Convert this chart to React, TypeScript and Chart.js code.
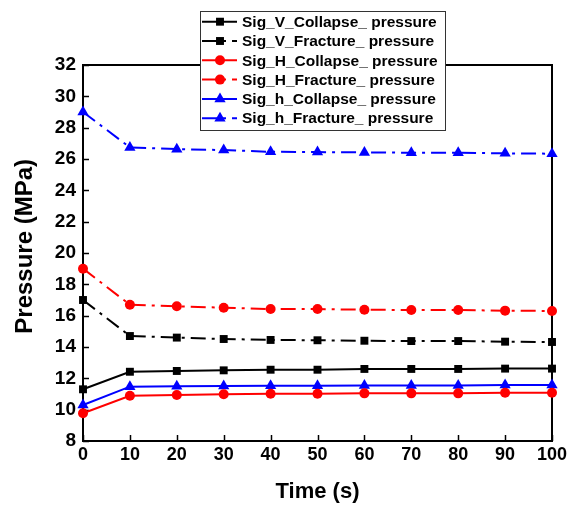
import { useEffect, useRef } from "react";
import { Chart, registerables } from "chart.js";

Chart.register(...registerables);

const times = [0, 10, 20, 30, 40, 50, 60, 70, 80, 90, 100];
const sigVCollapse = [11.3, 12.42, 12.47, 12.51, 12.55, 12.55, 12.6, 12.6, 12.6, 12.62, 12.62];
const sigVFracture = [17.0, 14.7, 14.6, 14.51, 14.45, 14.43, 14.4, 14.38, 14.38, 14.34, 14.32];
const sigHCollapse = [9.77, 10.89, 10.94, 10.98, 11.02, 11.02, 11.04, 11.04, 11.04, 11.08, 11.08];
const sigHFracture = [19.0, 16.7, 16.6, 16.51, 16.42, 16.42, 16.38, 16.36, 16.36, 16.32, 16.3];
const sighCollapse = [10.3, 11.47, 11.49, 11.51, 11.53, 11.53, 11.55, 11.55, 11.55, 11.57, 11.57];
const sighFracture = [29.0, 26.74, 26.63, 26.57, 26.46, 26.44, 26.42, 26.4, 26.4, 26.36, 26.34];

const seriesLabels = [
  "Sig_V_Collapse_ pressure",
  "Sig_V_Fracture_ pressure",
  "Sig_H_Collapse_ pressure",
  "Sig_H_Fracture_ pressure",
  "Sig_h_Collapse_ pressure",
  "Sig_h_Fracture_ pressure",
];

const FONT = "'Liberation Sans', Arial, sans-serif";
const DASHDOT = [15, 6, 3, 6];

function makeDs(label: string, values: number[], color: string, style: string, dashed: boolean) {
  const radius = style === "rect" ? 5.6 : style === "circle" ? 5 : 6.5;
  return {
    label,
    data: values.map((v, i) => ({ x: times[i], y: v })),
    borderColor: color,
    backgroundColor: color,
    borderWidth: 2,
    borderDash: dashed ? DASHDOT : [],
    pointStyle: style,
    pointRadius: radius,
    pointBorderWidth: 0,
    pointBackgroundColor: color,
    tension: 0,
    fill: false,
    clip: false as any,
  };
}

function drawMarker(ctx: CanvasRenderingContext2D, style: string, x: number, y: number, r: number) {
  ctx.beginPath();
  if (style === "rect") {
    const s = Math.SQRT1_2 * r;
    ctx.rect(x - s, y - s, 2 * s, 2 * s);
  } else if (style === "circle") {
    ctx.arc(x, y, r, 0, Math.PI * 2);
  } else {
    const w = r * Math.sin(Math.PI / 3);
    ctx.moveTo(x, y - r);
    ctx.lineTo(x + w, y + r / 2);
    ctx.lineTo(x - w, y + r / 2);
    ctx.closePath();
  }
  ctx.fill();
}

const boxPlugin = {
  id: "boxPlugin",
  beforeDatasetsDraw(chart: any) {
    const { ctx, chartArea } = chart;
    const { left, right, top, bottom } = chartArea;
    ctx.save();
    ctx.strokeStyle = "#000";
    ctx.lineWidth = 2;
    ctx.strokeRect(left, top, right - left, bottom - top);
    ctx.lineWidth = 1.5;
    const xs = chart.scales.x;
    xs.ticks.forEach((t: any) => {
      const px = Math.round(xs.getPixelForValue(t.value)) + 0.5;
      ctx.beginPath();
      ctx.moveTo(px, bottom);
      ctx.lineTo(px, bottom - 6);
      ctx.stroke();
    });
    const ys = chart.scales.y;
    ys.ticks.forEach((t: any) => {
      const py = Math.round(ys.getPixelForValue(t.value)) + 0.5;
      ctx.beginPath();
      ctx.moveTo(left, py);
      ctx.lineTo(left + 6, py);
      ctx.stroke();
    });
    ctx.restore();
  },
};

const legendPlugin = {
  id: "boxLegend",
  afterDraw(chart: any) {
    const { ctx } = chart;
    const bx = 200, by = 11, bw = 245, bh = 119;
    ctx.save();
    ctx.fillStyle = "#fff";
    ctx.fillRect(bx, by, bw, bh);
    ctx.strokeStyle = "#333";
    ctx.lineWidth = 1;
    ctx.strokeRect(bx + 0.5, by + 0.5, bw, bh);
    const dsets = chart.data.datasets;
    dsets.forEach((ds: any, i: number) => {
      const y = 21.7 + i * 19.3;
      ctx.strokeStyle = ds.borderColor;
      ctx.lineWidth = 2;
      ctx.setLineDash(ds.borderDash || []);
      ctx.beginPath();
      ctx.moveTo(202, y);
      ctx.lineTo(237, y);
      ctx.stroke();
      ctx.setLineDash([]);
      ctx.fillStyle = ds.borderColor;
      drawMarker(ctx, ds.pointStyle, 220, y, ds.pointRadius);
      ctx.fillStyle = "#000";
      ctx.font = `bold 15.5px ${FONT}`;
      ctx.textBaseline = "middle";
      ctx.textAlign = "left";
      ctx.fillText(ds.label, 242, y + 1);
    });
    ctx.restore();
  },
};

export default function App() {
  const ref = useRef<HTMLCanvasElement | null>(null);
  useEffect(() => {
    if (!ref.current) return;
    const chart = new Chart(ref.current, {
      type: "line",
      data: {
        datasets: [
          makeDs(seriesLabels[0], sigVCollapse, "#000000", "rect", false),
          makeDs(seriesLabels[1], sigVFracture, "#000000", "rect", true),
          makeDs(seriesLabels[2], sigHCollapse, "#ff0000", "circle", false),
          makeDs(seriesLabels[3], sigHFracture, "#ff0000", "circle", true),
          makeDs(seriesLabels[4], sighCollapse, "#0000ff", "triangle", false),
          makeDs(seriesLabels[5], sighFracture, "#0000ff", "triangle", true),
        ] as any,
      },
      options: {
        animation: false,
        responsive: false,
        maintainAspectRatio: false,
        layout: { padding: { left: 0, right: 29, top: 65, bottom: 0 } },
        plugins: { legend: { display: false }, tooltip: { enabled: false } },
        scales: {
          x: {
            type: "linear",
            min: 0,
            max: 100,
            grid: { display: false, drawTicks: false },
            border: { display: false },
            ticks: {
              stepSize: 10,
              padding: 3,
              color: "#000",
              maxRotation: 0,
              font: { family: FONT, size: 18, weight: "bold" },
            },
            title: {
              display: true,
              text: "Time (s)",
              color: "#000",
              font: { family: FONT, size: 22, weight: "bold" },
              padding: { top: 0, bottom: 2 },
            },
            afterFit(scale: any) {
              scale.height = 66;
            },
          },
          y: {
            type: "linear",
            min: 8,
            max: 32,
            grid: { display: false, drawTicks: false },
            border: { display: false },
            ticks: {
              stepSize: 2,
              padding: 7,
              color: "#000",
              font: { family: FONT, size: 19, weight: "bold" },
            },
            title: {
              display: true,
              text: "  Pressure (MPa)",
              color: "#000",
              font: { family: FONT, size: 24, weight: "bold" },
              padding: { top: 11, bottom: 0 },
            },
            afterFit(scale: any) {
              scale.width = 83;
            },
          },
        },
      } as any,
      plugins: [boxPlugin, legendPlugin],
    });
    return () => chart.destroy();
  }, []);
  return (
    <div style={{ position: "absolute", left: 0, top: 0, width: 581, height: 507 }}>
      <canvas ref={ref} width={581} height={507} style={{ width: 581, height: 507 }} />
    </div>
  );
}
